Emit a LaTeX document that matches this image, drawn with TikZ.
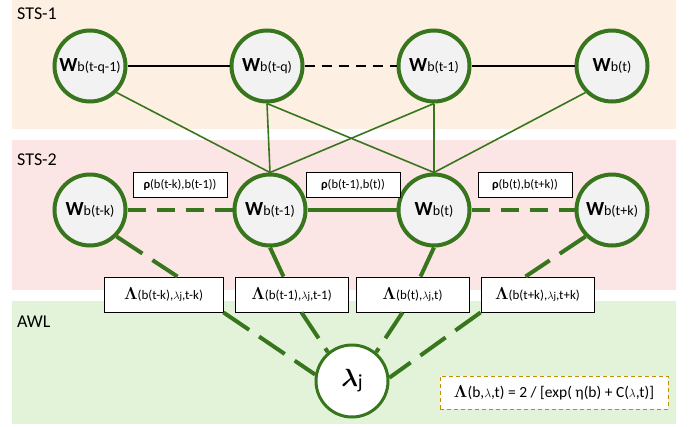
\documentclass[tikz,border=0pt]{standalone}
\usepackage{amsmath}
\usepackage[no-math]{fontspec}
\setmainfont{Carlito}
\definecolor{leaf}{RGB}{56,118,29}
\definecolor{stsone}{RGB}{253,240,227}
\definecolor{ststwo}{RGB}{252,229,229}
\definecolor{awlgreen}{RGB}{226,243,218}
\definecolor{nodegray}{RGB}{242,242,242}
\definecolor{ochre}{RGB}{191,144,0}
\newcommand{\wlab}[1]{{\fontsize{20}{20}\selectfont\bfseries W}{\fontsize{14}{14}\selectfont #1}}
\newcommand{\rholab}[1]{{\fontsize{12.5}{12.5}\selectfont\bfseries ρ}{\fontsize{12.5}{12.5}\selectfont #1}}
\newcommand{\smlam}{{\fontsize{10.5}{10.5}\selectfont$\lambda$j}}
\newcommand{\Lamlab}[1]{{\fontsize{16}{16}\selectfont$\mathbf{\Lambda}$}{\fontsize{13}{13}\selectfont #1}}

\begin{document}
\begin{tikzpicture}[x=1pt,y=-1pt,
  wnode/.style={circle,draw=leaf,line width=4pt,fill=nodegray,minimum size=71pt,inner sep=0pt},
  lbox/.style={draw=black,fill=white,line width=0.9pt,minimum width=113pt,minimum height=35pt,inner sep=0pt},
  rbox/.style={draw=black,fill=white,line width=0.8pt,minimum width=94pt,minimum height=25pt,inner sep=0pt},
  band/.style={font=\fontsize{18}{18}\selectfont,anchor=base west,inner sep=0pt},
  thin link/.style={draw=leaf,line width=1.6pt},
  thick link/.style={draw=leaf,line width=4pt},
  short dash/.style={dash pattern=on 18pt off 11pt},
  long dash/.style={dash pattern=on 31pt off 12pt}]
\useasboundingbox (0,0) rectangle (691,426);

% layers
\fill[stsone] (12,0) rectangle (676,129);
\fill[ststwo] (12,140) rectangle (676,290);
\fill[awlgreen] (12,301) rectangle (676,424);
\node[band] (sts1) at (17,19) {STS-1};
\node[band] (sts2) at (17,165) {STS-2};
\node[band] (awl) at (17,327) {AWL};

% STS-1
\node[wnode] (w1) at (90,66) {\wlab{b(t-q-1)}};
\node[wnode] (w2) at (267,66) {\wlab{b(t-q)}};
\node[wnode] (w3) at (434,66) {\wlab{b(t-1)}};
\node[wnode] (w4) at (612,66) {\wlab{b(t)}};
\draw[line width=1.8pt] (w1) -- (w2);
\draw[line width=1.8pt,dash pattern=on 10pt off 7pt] (w2) -- (w3);
\draw[line width=1.8pt] (w3) -- (w4);

% STS-2
\node[wnode] (m1) at (90,210) {\wlab{b(t-k)}};
\node[wnode] (m2) at (270,210) {\wlab{b(t-1)}};
\node[wnode] (m3) at (434,210) {\wlab{b(t)}};
\node[wnode] (m4) at (612,210) {\wlab{b(t+k)}};
\node[rbox] (r1) at (180,185) {\rholab{(b(t-k),b(t-1))}};
\node[rbox] (r2) at (353,185) {\rholab{(b(t-1),b(t))}};
\node[rbox] (r3) at (525,185) {\rholab{(b(t),b(t+k))}};

\draw[thin link] (w1.south east) -- (m2.north);
\draw[thin link] (w2.south) -- (m2.north);
\draw[thin link] (w2.south) -- (m3.north);
\draw[thin link] (w3.south) -- (m2.north);
\draw[thin link] (w3.south) -- (m3.north);
\draw[thin link] (w4.south west) -- (m3.north);

\draw[thick link,short dash] (m1) -- (m2);
\draw[thick link] (m2) -- (m3);
\draw[thick link,short dash] (m3) -- (m4);

% AWL
\node[lbox,minimum width=119pt] (l1) at (163.5,294.5) {\Lamlab{(b(t-k),\smlam,t-k)}};
\node[lbox] (l2) at (291.5,294.5) {\Lamlab{(b(t-1),\smlam,t-1)}};
\node[lbox] (l3) at (412.5,294.5) {\Lamlab{(b(t),\smlam,t)}};
\node[lbox] (l4) at (537.5,294.5) {\Lamlab{(b(t+k),\smlam,t+k)}};
\node[circle,draw=leaf,line width=3pt,fill=white,minimum size=72pt,inner sep=0pt] (lam) at (352,381)
  {{\fontsize{26}{26}\selectfont$\boldsymbol{\lambda}$}{\fontsize{20}{20}\selectfont\raisebox{-2pt}{j}}};
\node[draw=ochre,line width=1pt,dash pattern=on 4pt off 3pt,fill=white,minimum width=228pt,minimum height=33pt,inner sep=0pt] (form) at (554,392.5)
  {{\fontsize{17}{17}\selectfont$\mathbf{\Lambda}$}{\fontsize{15.5}{15.5}\selectfont(b,{\fontsize{12}{12}\selectfont$\lambda$},t) = 2 / [exp( η(b) + C({\fontsize{12}{12}\selectfont$\lambda$},t)]}};

\draw[thick link,long dash] (m1.south east) -- ([xshift=14pt]l1.north);
\draw[thick link] (m2.south) -- ([xshift=-8pt]l2.north);
\draw[thick link] (m3.south) -- ([xshift=8pt]l3.north);
\draw[thick link,long dash] (m4.south west) -- ([xshift=-12pt]l4.north);

\draw[thick link,long dash] (l1.south east) -- (lam.170);
\draw[thick link,long dash] ([xshift=10pt]l2.south) -- (lam.130);
\draw[thick link,long dash] ([xshift=-10pt]l3.south) -- (lam.50);
\draw[thick link,long dash] (l4.south west) -- (lam.5);
\end{tikzpicture}
\end{document}
